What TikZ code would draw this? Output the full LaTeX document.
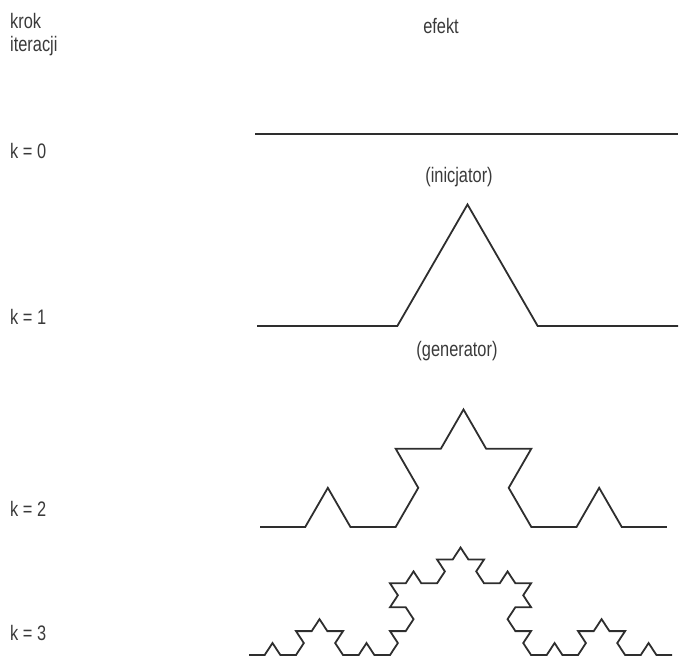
\documentclass[tikz,border=0pt]{standalone}
\usepackage{fontspec}
\setmainfont{Liberation Sans}[FakeStretch=0.78]
\usetikzlibrary{lindenmayersystems}
\pgfdeclarelindenmayersystem{Koch}{\rule{F -> F+F--F+F}}
\definecolor{ink}{HTML}{2E2E2E}
\definecolor{txt}{HTML}{3A3A3A}
\begin{document}
\begin{tikzpicture}[x=1pt,y=1pt,
  lbl/.style={text=txt,font=\fontsize{21pt}{25pt}\selectfont,inner sep=0pt,anchor=base west},
  clbl/.style={text=txt,font=\fontsize{21pt}{25pt}\selectfont,inner sep=0pt,anchor=base},
  curve/.style={draw=ink,line width=1.8pt,line join=miter}]
\useasboundingbox (0,0) rectangle (679,660);
% labels
\node[lbl] (krok) at (10,631) {krok};
\node[lbl] (iter) at (10,608) {iteracji};
\node[clbl] (efekt) at (441,626) {efekt};
\node[lbl] (k0) at (10,501) {k = 0};
\node[lbl] (k1) at (10,335) {k = 1};
\node[lbl] (k2) at (10,143) {k = 2};
\node[lbl] (k3) at (10,19) {k = 3};
\node[clbl] (ini) at (459,477) {(inicjator)};
\node[clbl] (gen) at (457,303) {(generator)};
% k = 0
\draw[curve] (255,526) -- (678,526);
% k = 1
\draw[curve,shift={(257,334)},lindenmayer system={Koch, axiom=F, order=1, step=140.33pt, angle=60}] lindenmayer system;
% k = 2
\draw[curve,shift={(260,133)},lindenmayer system={Koch, axiom=F, order=2, step=45.22pt, angle=60}] lindenmayer system;
% k = 3
\begin{scope}[shift={(249,5)},yscale=0.88]
\draw[curve,lindenmayer system={Koch, axiom=F, order=3, step=15.67pt, angle=60}] lindenmayer system;
\end{scope}
\end{tikzpicture}
\end{document}
